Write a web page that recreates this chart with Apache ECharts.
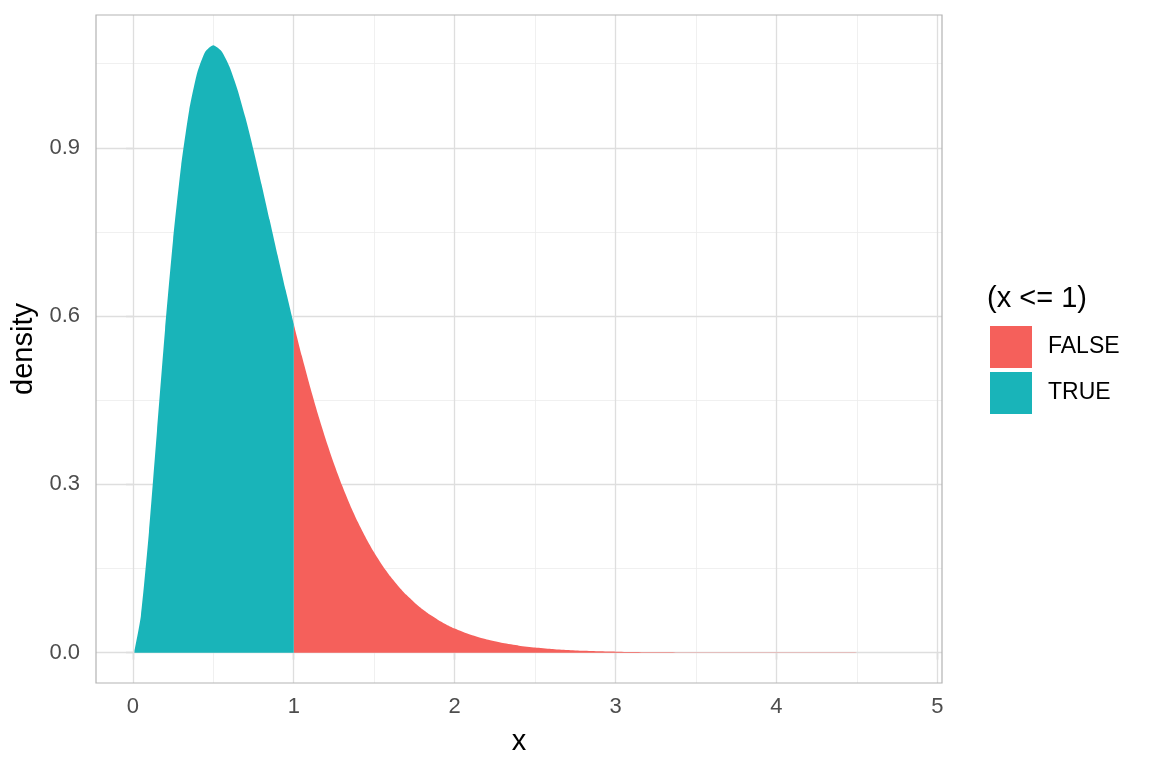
<!DOCTYPE html>
<html><head><meta charset="utf-8">
<script src="https://cdn.jsdelivr.net/npm/echarts@6/dist/echarts.min.js"></script>
<style>html,body{margin:0;padding:0;background:#fff}#c{width:1152px;height:768px}</style>
</head><body><div id="c"></div>
<script>
// density values
var xs = [0.01,0.05,0.10,0.15,0.20,0.25,0.30,0.35,0.40,0.45,0.50,0.55,0.60,0.65,0.70,0.75,0.80,0.85,0.90,0.95,1.00,
          1.05,1.10,1.15,1.20,1.25,1.30,1.35,1.40,1.45,1.50,1.55,1.60,1.65,1.70,1.75,1.80,1.85,1.90,1.95,2.00,
          2.1,2.2,2.3,2.4,2.5,2.6,2.7,2.8,2.9,3.0,3.25,3.5,3.75,4.0,4.25,4.5,4.79];
var ys = [0.0031,0.0655,0.2145,0.3951,0.5751,0.7358,0.8674,0.9667,1.0337,1.0711,1.0827,1.0726,1.0451,1.0042,0.9535,0.8962,0.8348,0.7716,0.7082,0.6461,0.5861,
          0.5291,0.4754,0.4254,0.3792,0.3369,0.2983,0.2634,0.2319,0.2037,0.1785,0.1560,0.1361,0.1185,0.1030,0.0894,0.0774,0.0669,0.0578,0.0499,0.0429,
          0.0317,0.0233,0.0171,0.0125,0.0091,0.0066,0.0048,0.0034,0.0025,0.0018,0.00076,0.00033,0.00014,0.00006,0.000024,0.00001,0.000003];
var groups = ['FALSE','TRUE'];
var xTicks = [0,1,2,3,4,5];
var xMinor = [0.5,1.5,2.5,3.5,4.5];
var yTicks = [0,0.3,0.6,0.9];
var yMinor = [0.15,0.45,0.75,1.05];

var trueData = [], falseData = [];
for (var i = 0; i < xs.length; i++) {
  if (xs[i] <= 1) trueData.push([xs[i], ys[i]]);
  if (xs[i] >= 1) falseData.push([xs[i], ys[i]]);
}
var xExp = (xs[xs.length-1] - xs[0]) * 0.05;
var yMax = Math.max.apply(null, ys), yExp = yMax * 0.05;

var FONT = 'Liberation Sans, Arial, sans-serif';
var gridMarks = [];
xMinor.forEach(function(v){ gridMarks.push({xAxis: v, lineStyle:{color:'#ececec', width:0.8, type:'solid'}}); });
yMinor.forEach(function(v){ gridMarks.push({yAxis: v, lineStyle:{color:'#ececec', width:0.8, type:'solid'}}); });
xTicks.forEach(function(v){ gridMarks.push({xAxis: v, lineStyle:{color:'#dedede', width:1.3, type:'solid'}}); });
yTicks.forEach(function(v){ gridMarks.push({yAxis: v, lineStyle:{color:'#dedede', width:1.3, type:'solid'}}); });

var chart = echarts.init(document.getElementById('c'), null, {renderer:'canvas'});
chart.setOption({
  animation: false,
  backgroundColor: '#ffffff',
  title: {text: '(x <= 1)', left: 982, top: 279, textStyle:{fontFamily: FONT, fontSize: 29, fontWeight:'normal', color:'#000'}},
  legend: {
    data: groups, orient:'vertical', left: 985, top: 321, itemWidth: 42, itemHeight: 42, itemGap: 4,
    icon: 'rect', textStyle:{fontFamily: FONT, fontSize: 23, color:'#000', padding:[0,0,0,11]},
    selectedMode: false
  },
  grid: {left: 96, right: 210, top: 15, bottom: 85, show: true, borderColor:'#b3b3b3', borderWidth: 1.2, backgroundColor:'transparent', z: 20},
  xAxis: {
    type:'value', min: xs[0]-xExp, max: xs[xs.length-1]+xExp,
    name:'x', nameLocation:'middle', nameGap: 44, nameTextStyle:{fontFamily: FONT, fontSize: 29, color:'#000'},
    axisLine:{show:false}, splitLine:{show:false},
    axisTick:{show:true, customValues: xTicks, length: 7, lineStyle:{color:'#b3b3b3', width:1.3}},
    axisLabel:{customValues: xTicks, fontFamily: FONT, fontSize: 22, color:'#4d4d4d', margin: 13}
  },
  yAxis: {
    type:'value', min: -yExp, max: yMax + yExp,
    name:'density', nameLocation:'middle', nameGap: 54, nameRotate: 90, nameTextStyle:{fontFamily: FONT, fontSize: 29, color:'#000'},
    axisLine:{show:false}, splitLine:{show:false},
    axisTick:{show:true, customValues: yTicks, length: 7, lineStyle:{color:'#b3b3b3', width:1.3}},
    axisLabel:{customValues: yTicks, fontFamily: FONT, fontSize: 22, color:'#4d4d4d', margin: 16,
      formatter: function(v){ return v.toFixed(1); }}
  },
  series: [
    {name:'grid', type:'line', data:[[xs[0], 0]], symbol:'none', lineStyle:{opacity:0}, z:1, silent:true,
      markLine:{silent:true, z:1, symbol:['none','none'], label:{show:false}, animation:false, data: gridMarks}},
    {name:'FALSE', type:'line', data: falseData, symbol:'none', smooth: 0.2, lineStyle:{width:0}, itemStyle:{color:'#F5605B'},
      areaStyle:{color:'#F5605B', opacity:1, origin: 0}, z:10},
    {name:'TRUE', type:'line', data: trueData, symbol:'none', smooth: 0.2, lineStyle:{width:0}, itemStyle:{color:'#19B4B9'},
      areaStyle:{color:'#19B4B9', opacity:1, origin: 0}, z:10}
  ]
});
</script></body></html>
